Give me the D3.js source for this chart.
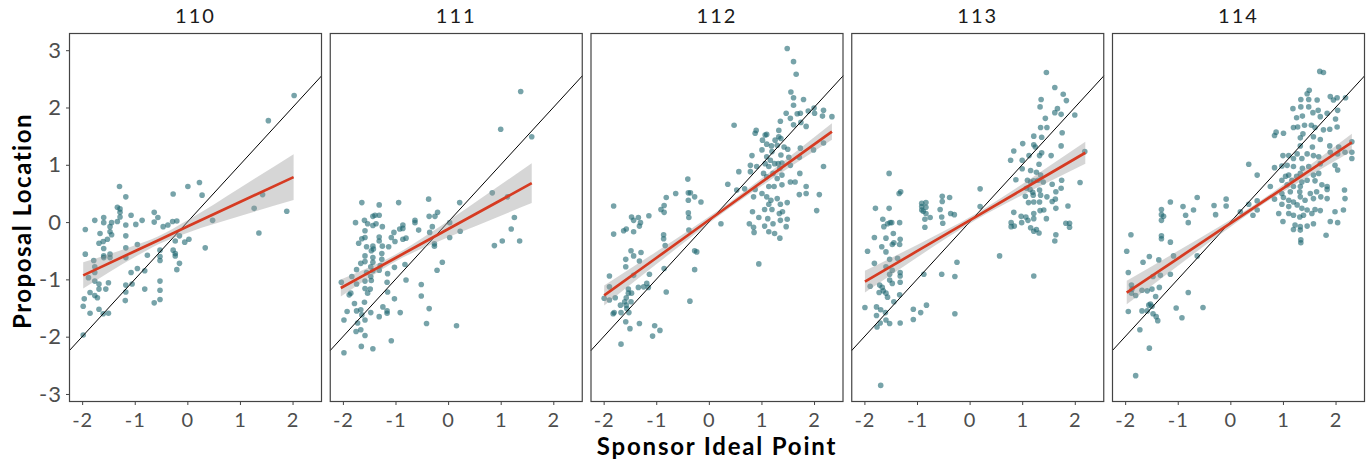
<!DOCTYPE html>
<html><head><meta charset="utf-8">
<script src="https://cdn.jsdelivr.net/npm/d3@7"></script>
<style>
html,body{margin:0;padding:0;background:#fff;}
svg{display:block;font-family:Lato,"Open Sans",sans-serif;}
</style></head>
<body><svg id="chart" width="1372" height="463"></svg>
<script>
const congresses = ["110","111","112","113","114"];
const xTicks = [-2,-1,0,1,2];
const yTicks = [-3,-2,-1,0,1,2,3];

const pts110 = [[2.03,2.21],[1.54,1.77],[1.43,0.48],[1.27,0.24],[1.89,0.19],[1.36,-0.19],[0.48,0.03],[0.23,0.69],[0.01,0.62],[0.28,0.47],[-0.27,0.49],[0.34,-0.45],[0.03,-0.30],[-0.05,-0.35],[-0.15,-0.24],[-0.15,-0.72],[-0.20,-0.83],[-0.23,-0.55],[-0.23,-0.59],[-0.27,-0.49],[-0.23,-0.33],[-0.28,0.01],[-0.20,0.02],[-0.37,-0.05],[-0.46,-0.08],[-0.56,0.08],[-0.63,0.17],[-0.63,0.0],[-0.52,-0.49],[-0.52,-0.67],[-0.52,-0.60],[-0.52,-1.03],[-0.52,-1.19],[-0.52,-1.35],[-0.63,-1.41],[-0.81,-1.17],[-0.76,-0.58],[-0.81,-0.85],[-0.95,-0.39],[-0.95,-0.81],[-0.98,-0.04],[-0.86,0.03],[-1.07,0.12],[-1.07,-0.88],[-1.05,-1.08],[-1.17,0.44],[-1.17,-0.05],[-1.17,-0.24],[-1.17,-0.45],[-1.17,-0.62],[-1.17,-1.10],[-1.17,-1.22],[-1.18,-1.37],[-1.29,0.62],[-1.33,0.26],[-1.28,0.23],[-1.28,0.17],[-1.28,0.09],[-1.33,0.01],[-1.44,-0.01],[-1.47,-0.08],[-1.47,-0.17],[-1.44,-0.22],[-1.52,-0.30],[-1.60,-0.34],[-1.68,-0.37],[-1.59,-0.46],[-1.47,-0.56],[-1.47,-0.62],[-1.59,-0.59],[-1.59,-0.62],[-1.66,-0.20],[-1.59,0.08],[-1.59,-0.01],[-1.76,0.03],[-1.94,-0.13],[-1.94,-0.56],[-1.78,-0.67],[-1.76,-0.78],[-1.76,-0.88],[-1.76,-1.03],[-1.88,-0.97],[-1.68,-1.08],[-1.68,-1.17],[-1.76,-1.28],[-1.71,-1.32],[-1.85,-1.23],[-1.96,-1.34],[-1.98,-1.47],[-1.85,-1.59],[-1.68,-1.52],[-1.60,-1.60],[-1.50,-1.59],[-1.55,-1.17],[-1.50,-1.06],[-1.98,-1.97]];

const pts111 = [[1.38,2.28],[1.00,1.62],[1.59,1.49],[0.84,0.51],[1.13,0.44],[1.26,0.08],[1.20,-0.12],[1.36,-0.33],[1.03,-0.33],[0.88,-0.41],[0.22,0.34],[0.23,-0.16],[0.03,-0.27],[0.03,-0.01],[0.16,-1.81],[-0.20,0.17],[-0.25,0.10],[-0.36,0.10],[-0.37,0.40],[-0.30,-0.08],[-0.35,-0.18],[-0.26,-0.38],[-0.26,-0.42],[-0.11,-0.70],[-0.21,-0.84],[-0.51,-1.09],[-0.51,-1.29],[-0.36,-1.51],[-0.41,-1.77],[-0.56,-0.14],[-0.63,0.03],[-0.63,-0.01],[-0.82,-0.74],[-0.80,-1.01],[-0.80,-0.28],[-0.86,-0.05],[-0.86,-0.11],[-0.86,-0.30],[-0.94,0.34],[-0.92,-0.12],[-1.01,-0.34],[-1.02,-0.79],[-1.02,-1.34],[-0.91,-1.58],[-1.08,-2.07],[-1.03,-0.18],[-1.08,-0.27],[-1.13,-0.43],[-1.15,-0.90],[-1.16,-1.05],[-1.15,-1.22],[-1.16,-1.55],[-1.16,-1.59],[-1.24,-1.48],[-1.31,0.30],[-1.31,0.12],[-1.25,-0.08],[-1.31,-0.26],[-1.31,-0.33],[-1.25,-0.42],[-1.26,-0.55],[-1.26,-0.65],[-1.29,-0.76],[-1.31,-0.84],[-1.31,-1.65],[-1.39,0.12],[-1.43,0.10],[-1.43,-0.06],[-1.37,-0.03],[-1.43,-0.42],[-1.46,-0.50],[-1.42,-0.47],[-1.43,-0.62],[-1.43,-0.70],[-1.47,-0.78],[-1.43,-0.85],[-1.47,-0.95],[-1.46,-1.02],[-1.48,-1.17],[-1.47,-1.58],[-1.43,-2.21],[-1.53,-0.03],[-1.58,-0.15],[-1.58,-0.27],[-1.55,-0.43],[-1.58,-0.59],[-1.58,-0.69],[-1.55,-0.88],[-1.58,-1.03],[-1.58,-1.16],[-1.53,-1.24],[-1.59,-1.40],[-1.58,-1.71],[-1.58,-1.98],[-1.59,0.03],[-1.64,0.34],[-1.64,-0.29],[-1.70,-0.37],[-1.66,-0.72],[-1.74,-0.83],[-1.74,-1.08],[-1.76,-0.01],[-1.83,-0.95],[-1.85,-1.24],[-1.78,-1.42],[-1.74,-1.55],[-1.66,-1.53],[-1.64,-1.62],[-1.72,-1.76],[-1.75,-1.91],[-1.66,-1.88],[-1.65,-2.17],[-1.92,-1.56],[-1.98,-1.71],[-1.98,-2.28],[-2.03,-1.05],[-1.88,-1.27]];

const pts112 = [[1.49,3.03],[1.61,2.80],[1.66,2.58],[1.56,2.27],[1.61,2.17],[1.80,2.14],[1.61,2.04],[1.47,1.90],[1.36,1.76],[1.55,1.81],[1.68,1.89],[1.74,1.90],[1.89,1.94],[2.00,1.99],[2.01,1.90],[2.18,1.95],[2.16,1.85],[2.34,1.84],[1.61,1.70],[1.85,1.67],[1.75,1.74],[0.48,1.69],[1.33,1.60],[0.88,1.55],[0.90,1.60],[1.07,1.52],[1.10,1.53],[1.33,1.49],[1.37,1.46],[1.02,1.43],[1.26,1.43],[1.10,1.36],[1.19,1.33],[1.30,1.34],[1.43,1.31],[1.01,1.26],[1.20,1.23],[1.37,1.17],[1.50,1.27],[1.74,1.29],[1.99,1.26],[2.18,1.38],[0.82,1.16],[1.10,1.14],[1.17,1.08],[1.25,1.02],[1.32,1.02],[1.39,1.03],[1.52,1.13],[1.72,1.13],[0.79,0.99],[0.91,0.97],[1.07,1.02],[1.14,0.97],[1.35,0.94],[1.55,0.99],[2.18,0.97],[0.57,0.88],[0.79,0.88],[1.04,0.85],[1.22,0.85],[1.39,0.82],[1.73,0.85],[1.10,0.79],[1.30,0.76],[1.55,0.70],[1.64,0.70],[0.36,0.66],[0.53,0.56],[0.68,0.58],[0.88,0.57],[1.01,0.50],[1.14,0.62],[1.24,0.62],[1.39,0.65],[1.85,0.62],[0.85,0.44],[1.10,0.44],[1.18,0.38],[1.30,0.41],[1.49,0.34],[1.72,0.48],[1.85,0.50],[2.10,0.48],[1.14,0.31],[1.36,0.31],[1.20,0.22],[1.06,0.22],[0.83,0.18],[1.34,0.15],[1.40,0.18],[2.05,0.20],[0.95,0.08],[1.12,0.06],[1.36,0.03],[1.49,0.05],[0.77,-0.03],[0.85,-0.09],[1.06,-0.07],[1.22,-0.03],[1.47,-0.08],[0.86,-0.18],[1.14,-0.17],[1.25,-0.20],[1.35,-0.28],[0.95,-0.73],[0.23,-0.03],[-0.40,0.75],[-0.39,0.51],[-0.35,0.51],[-0.27,0.44],[-0.15,0.35],[-0.39,0.38],[-0.63,0.50],[-0.81,0.43],[-0.85,0.29],[-0.91,0.22],[-0.85,0.17],[-1.14,0.11],[-1.34,0.08],[-1.47,0.09],[-1.43,0.03],[-1.30,-0.01],[-1.32,-0.07],[-1.57,-0.12],[-1.62,-0.15],[-1.43,-0.17],[-1.81,0.28],[-1.81,-0.21],[-0.39,0.16],[-0.38,0.08],[-0.38,-0.14],[-0.86,-0.22],[-0.86,-0.29],[-0.83,-0.41],[-0.27,-0.50],[-0.23,-0.52],[-0.27,-0.83],[-0.36,-1.38],[-0.81,-1.22],[-0.85,-0.81],[-1.13,-0.91],[-1.18,-1.07],[-1.15,-1.14],[-1.24,-1.13],[-1.34,-1.14],[-1.29,-0.53],[-1.32,-0.68],[-1.43,-0.59],[-1.48,-0.50],[-1.58,-0.65],[-1.58,-0.78],[-1.43,-0.93],[-1.89,-0.94],[-1.89,-1.13],[-1.53,-1.17],[-1.47,-1.24],[-1.53,-1.24],[-1.57,-1.32],[-1.60,-1.39],[-1.48,-1.39],[-1.78,-1.32],[-1.99,-1.33],[-1.89,-1.36],[-1.57,-1.45],[-1.56,-1.51],[-1.67,-1.58],[-1.80,-1.58],[-1.82,-1.60],[-1.52,-1.58],[-1.68,-1.45],[-1.58,-1.74],[-1.50,-1.86],[-1.32,-1.77],[-1.03,-1.81],[-0.93,-1.89],[-1.07,-1.99],[-1.67,-2.13]];

const pts113 = [[1.46,2.61],[1.62,2.35],[1.78,2.23],[1.84,2.12],[1.36,2.14],[1.34,2.01],[1.67,1.98],[1.62,1.91],[1.74,1.88],[2.00,1.87],[1.44,1.81],[1.35,1.65],[1.47,1.65],[1.76,1.56],[1.22,1.50],[1.37,1.48],[1.01,1.37],[1.22,1.35],[1.25,1.31],[1.74,1.33],[0.84,1.24],[1.13,1.16],[1.37,1.21],[1.33,1.16],[1.55,1.16],[1.00,1.08],[0.78,1.08],[1.32,1.01],[1.00,0.93],[1.16,0.90],[1.27,0.87],[1.35,0.82],[0.88,0.74],[1.10,0.73],[1.16,0.70],[1.22,0.72],[1.30,0.73],[1.40,0.70],[1.57,0.66],[1.75,0.73],[2.10,0.69],[2.19,1.23],[1.08,0.59],[1.15,0.57],[1.20,0.52],[1.33,0.56],[1.64,0.53],[1.74,0.59],[1.06,0.45],[1.21,0.47],[1.35,0.47],[1.47,0.44],[1.63,0.40],[1.57,0.36],[1.12,0.34],[1.22,0.35],[1.33,0.35],[1.41,0.21],[1.34,0.20],[1.64,0.24],[1.87,0.28],[0.84,0.17],[0.98,0.10],[1.07,0.09],[1.22,0.15],[1.22,0.06],[1.46,0.06],[0.79,-0.01],[0.79,-0.08],[0.85,-0.07],[0.99,-0.01],[1.11,0.03],[1.16,-0.10],[1.22,-0.16],[1.27,-0.13],[1.32,-0.19],[1.83,-0.02],[1.90,-0.02],[1.90,-0.09],[1.64,-0.22],[1.62,-0.33],[0.57,-0.59],[1.22,-0.94],[0.20,0.58],[0.20,0.27],[-1.53,0.85],[-1.31,0.53],[-1.34,0.50],[-1.79,0.24],[-1.53,0.24],[-1.65,0.05],[-1.51,-0.01],[-1.56,-0.03],[-1.48,-0.01],[-1.63,-0.08],[-1.33,-0.01],[-1.45,-0.20],[-1.81,-0.27],[-1.59,-0.28],[-1.32,-0.30],[-1.44,-0.36],[-1.47,-0.39],[-1.67,-0.43],[-1.33,-0.39],[-1.94,-0.51],[-1.59,-0.52],[-1.52,-0.65],[-1.37,-0.63],[-1.81,-0.72],[-1.59,-0.78],[-1.47,-0.84],[-1.32,-0.88],[-1.52,-0.91],[-1.32,-0.94],[-1.52,-1.01],[-1.32,-1.05],[-1.47,-1.07],[-1.89,-1.12],[-1.71,-1.10],[-1.66,-1.14],[-1.64,-1.20],[-1.59,-1.24],[-1.72,-1.23],[-1.56,-1.31],[-1.33,-1.27],[-1.44,-1.39],[-1.99,-1.49],[-1.77,-1.48],[-1.69,-1.53],[-1.60,-1.58],[-1.77,-1.63],[-1.59,-1.71],[-1.70,-1.76],[-1.52,-1.77],[-1.76,-1.83],[-1.32,-1.76],[-1.69,-2.85],[-0.91,0.33],[-0.83,0.34],[-0.91,0.27],[-0.83,0.26],[-0.91,0.21],[-0.88,0.19],[-0.83,0.15],[-0.85,0.05],[-0.75,0.08],[-0.85,-0.09],[-0.52,0.45],[-0.52,0.36],[-0.38,0.43],[-0.56,0.22],[-0.36,0.15],[-0.29,0.13],[-0.53,0.09],[-0.51,-0.02],[-0.24,-0.70],[-0.28,-0.95],[-0.53,-0.91],[-0.87,-0.91],[-0.82,-1.45],[-1.07,-1.52],[-0.93,-1.58],[-1.07,-1.70],[-0.28,-1.60]];

const pts114 = [[1.70,2.63],[1.77,2.61],[1.50,2.30],[1.46,2.24],[1.34,2.14],[1.49,2.14],[1.65,2.13],[1.90,2.19],[2.03,2.17],[2.19,2.17],[1.96,2.13],[1.34,2.01],[1.19,1.98],[1.49,2.01],[1.57,1.91],[1.67,1.95],[1.71,1.84],[1.37,1.85],[1.26,1.82],[2.04,1.95],[1.84,1.90],[2.00,1.80],[1.20,1.65],[1.28,1.66],[1.41,1.69],[1.54,1.69],[1.61,1.65],[1.77,1.61],[1.89,1.62],[2.03,1.66],[0.87,1.57],[0.84,1.51],[1.01,1.55],[1.33,1.47],[1.38,1.54],[1.58,1.49],[1.71,1.44],[1.33,1.33],[1.56,1.31],[1.89,1.33],[2.06,1.31],[2.31,1.40],[1.00,1.16],[1.11,1.16],[1.20,1.11],[1.27,1.19],[1.36,1.11],[1.46,1.19],[1.58,1.16],[1.68,1.14],[1.90,1.22],[2.04,1.19],[2.18,1.22],[2.31,1.22],[2.31,1.11],[0.35,1.01],[0.84,0.95],[0.98,0.98],[1.08,0.99],[1.20,0.97],[1.37,0.94],[1.49,0.97],[1.71,1.02],[1.99,0.99],[2.04,0.91],[0.51,0.82],[1.05,0.80],[1.11,0.82],[1.26,0.80],[1.33,0.85],[1.58,0.82],[1.68,0.85],[0.98,0.73],[1.17,0.73],[1.36,0.70],[1.46,0.73],[1.61,0.72],[0.76,0.62],[1.08,0.65],[1.20,0.62],[1.33,0.62],[1.74,0.65],[1.84,0.62],[2.17,0.56],[0.98,0.50],[1.14,0.53],[1.32,0.53],[1.52,0.50],[1.64,0.53],[1.84,0.57],[0.84,0.40],[1.01,0.43],[1.11,0.38],[1.20,0.35],[1.33,0.44],[1.42,0.38],[1.58,0.41],[1.72,0.44],[1.84,0.41],[2.18,0.41],[0.35,0.31],[0.51,0.37],[0.98,0.31],[1.11,0.27],[1.27,0.30],[1.36,0.24],[1.46,0.21],[1.61,0.22],[1.71,0.20],[1.99,0.18],[2.15,0.21],[0.43,0.12],[0.92,0.15],[1.11,0.15],[1.20,0.12],[1.32,0.09],[1.39,0.12],[1.55,0.15],[1.00,0.01],[1.23,-0.05],[1.33,-0.08],[1.46,-0.07],[1.58,-0.03],[1.90,0.01],[2.04,-0.01],[1.33,-0.14],[1.20,-0.13],[1.82,-0.23],[1.34,-0.31],[1.34,-0.36],[0.19,0.18],[0.51,0.21],[-0.63,0.43],[-0.08,0.40],[-0.08,0.28],[-0.31,0.29],[-0.28,0.13],[-0.70,0.21],[-0.90,0.27],[-0.85,0.12],[-0.80,-0.01],[-1.14,0.35],[-1.31,0.22],[-1.31,0.13],[-1.27,0.10],[-1.31,0.03],[-1.89,-0.22],[-1.31,-0.24],[-1.31,-0.29],[-1.14,-0.35],[-1.97,-0.51],[-1.54,-0.60],[-1.66,-0.70],[-1.36,-0.66],[-1.08,-0.59],[-0.63,-0.59],[-1.94,-0.88],[-1.33,-0.93],[-1.14,-0.91],[-1.47,-0.95],[-1.88,-1.10],[-1.35,-1.14],[-1.87,-1.17],[-1.68,-1.19],[-1.49,-1.17],[-1.58,-1.20],[-1.80,-1.28],[-1.88,-1.24],[-1.42,-1.30],[-0.80,-1.23],[-1.55,-1.45],[-1.52,-1.43],[-1.49,-1.47],[-1.68,-1.55],[-1.94,-1.56],[-1.58,-1.55],[-1.47,-1.60],[-1.41,-1.65],[-1.38,-1.72],[-1.03,-1.50],[-0.92,-1.67],[-0.52,-1.49],[-1.72,-1.88],[-1.54,-2.20],[-1.80,-2.68]];

const points = [pts110, pts111, pts112, pts113, pts114];

// fitted line + 95% band: x, fit, lower, upper
const fitX   = [[-1.98,-0.98,-0.55,0.02,1.02,2.02],[-2.04,-1.5,-1.0,-0.3,0.6,1.59],[-1.99,-1.0,-0.3,0.4,1.4,2.34],[-1.99,-1.0,0.1,1.2,2.20],[-1.97,-1.0,-0.2,0.5,1.4,2.31]];
const fitY   = [[-0.93,-0.50,-0.316,-0.07,0.36,0.785],[-1.15,-0.878,-0.626,-0.273,0.180,0.679],[-1.28,-0.627,-0.164,0.298,0.959,1.58],[-1.04,-0.508,0.083,0.673,1.21],[-1.23,-0.636,-0.146,0.282,0.833,1.39]];
const fitLo  = [[-1.16,-0.60,-0.386,-0.18,0.11,0.385],[-1.30,-0.967,-0.686,-0.383,-0.04,0.331],[-1.455,-0.737,-0.234,0.248,0.873,1.435],[-1.23,-0.618,0.028,0.563,1.02],[-1.435,-0.766,-0.218,0.237,0.748,1.237]];
const fitHi  = [[-0.70,-0.40,-0.246,0.04,0.61,1.185],[-1.00,-0.789,-0.566,-0.163,0.40,1.027],[-1.105,-0.517,-0.094,0.348,1.045,1.725],[-0.85,-0.398,0.138,0.783,1.40],[-1.025,-0.506,-0.074,0.327,0.918,1.543]];
const diagonal = [-2.25, 2.56];

const svg = d3.select("#chart");
const plotTop = 33, plotBottom = 402;
const facet = d3.scaleBand().domain(congresses).range([69, 1365]).paddingInner(0.0297);
const y = d3.scaleLinear().domain([-3.14, 3.30]).range([plotBottom, plotTop]);
const fmt = d => String(d);

congresses.forEach((c, i) => {
  const x0 = facet(c), w = facet.bandwidth();
  const x = d3.scaleLinear().domain([-2.25, 2.56]).range([x0, x0 + w]);
  const g = svg.append("g");
  const clipId = "clip" + c;
  g.append("clipPath").attr("id", clipId).append("rect")
    .attr("x", x0).attr("y", plotTop).attr("width", w).attr("height", plotBottom - plotTop);
  const plot = g.append("g").attr("clip-path", `url(#${clipId})`);

  plot.selectAll("circle").data(points[i]).join("circle")
    .attr("cx", d => x(d[0])).attr("cy", d => y(d[1])).attr("r", 2.8)
    .attr("fill", "#1d6670").attr("fill-opacity", 0.6);

  plot.append("line")
    .attr("x1", x(diagonal[0])).attr("y1", y(diagonal[0]))
    .attr("x2", x(diagonal[1])).attr("y2", y(diagonal[1]))
    .attr("stroke", "#000").attr("stroke-width", 1);

  const bandData = fitX[i].map((v, k) => ({x: v, lo: fitLo[i][k], hi: fitHi[i][k], f: fitY[i][k]}));
  plot.append("path").datum(bandData)
    .attr("d", d3.area().x(d => x(d.x)).y0(d => y(d.lo)).y1(d => y(d.hi)).curve(d3.curveMonotoneX))
    .attr("fill", "#999999").attr("fill-opacity", 0.4);
  plot.append("path").datum(bandData)
    .attr("d", d3.line().x(d => x(d.x)).y(d => y(d.f)))
    .attr("fill", "none").attr("stroke", "#d63b22").attr("stroke-width", 2.7);

  g.append("rect").attr("x", x0 + 0.5).attr("y", plotTop + 0.5).attr("width", w - 1).attr("height", plotBottom - plotTop - 1)
    .attr("fill", "none").attr("stroke", "#444").attr("stroke-width", 1.2);

  const xa = g.append("g").attr("transform", `translate(0,${plotBottom})`)
    .call(d3.axisBottom(x).tickValues(xTicks).tickSize(3).tickPadding(8).tickFormat(fmt));
  xa.select(".domain").remove();
  xa.selectAll(".tick line").attr("stroke", "#444");
  xa.selectAll("text").attr("fill", "#4d4d4d").attr("font-size", 20).attr("letter-spacing", 1)
    .attr("font-family", "Lato, 'Open Sans', sans-serif");

  g.append("text").attr("x", x0 + w / 2).attr("y", 23).attr("text-anchor", "middle")
    .attr("font-size", 20).attr("letter-spacing", 2).attr("fill", "#1a1a1a").text(c);
});

const ya = svg.append("g").attr("transform", "translate(69,0)")
  .call(d3.axisLeft(y).tickValues(yTicks).tickSize(3).tickPadding(4).tickFormat(fmt));
ya.select(".domain").remove();
ya.selectAll(".tick line").attr("stroke", "#444");
ya.selectAll("text").attr("fill", "#4d4d4d").attr("font-size", 22).attr("letter-spacing", 1)
  .attr("font-family", "Lato, 'Open Sans', sans-serif");

svg.append("text").attr("x", 717).attr("y", 455).attr("text-anchor", "middle")
  .attr("font-size", 24).attr("font-weight", "bold").attr("letter-spacing", 1.8).attr("fill", "#000").text("Sponsor Ideal Point");
svg.append("text").attr("transform", "translate(31,221) rotate(-90)").attr("text-anchor", "middle")
  .attr("font-size", 24).attr("font-weight", "bold").attr("letter-spacing", 1.5).attr("fill", "#000").text("Proposal Location");
</script></body></html>
